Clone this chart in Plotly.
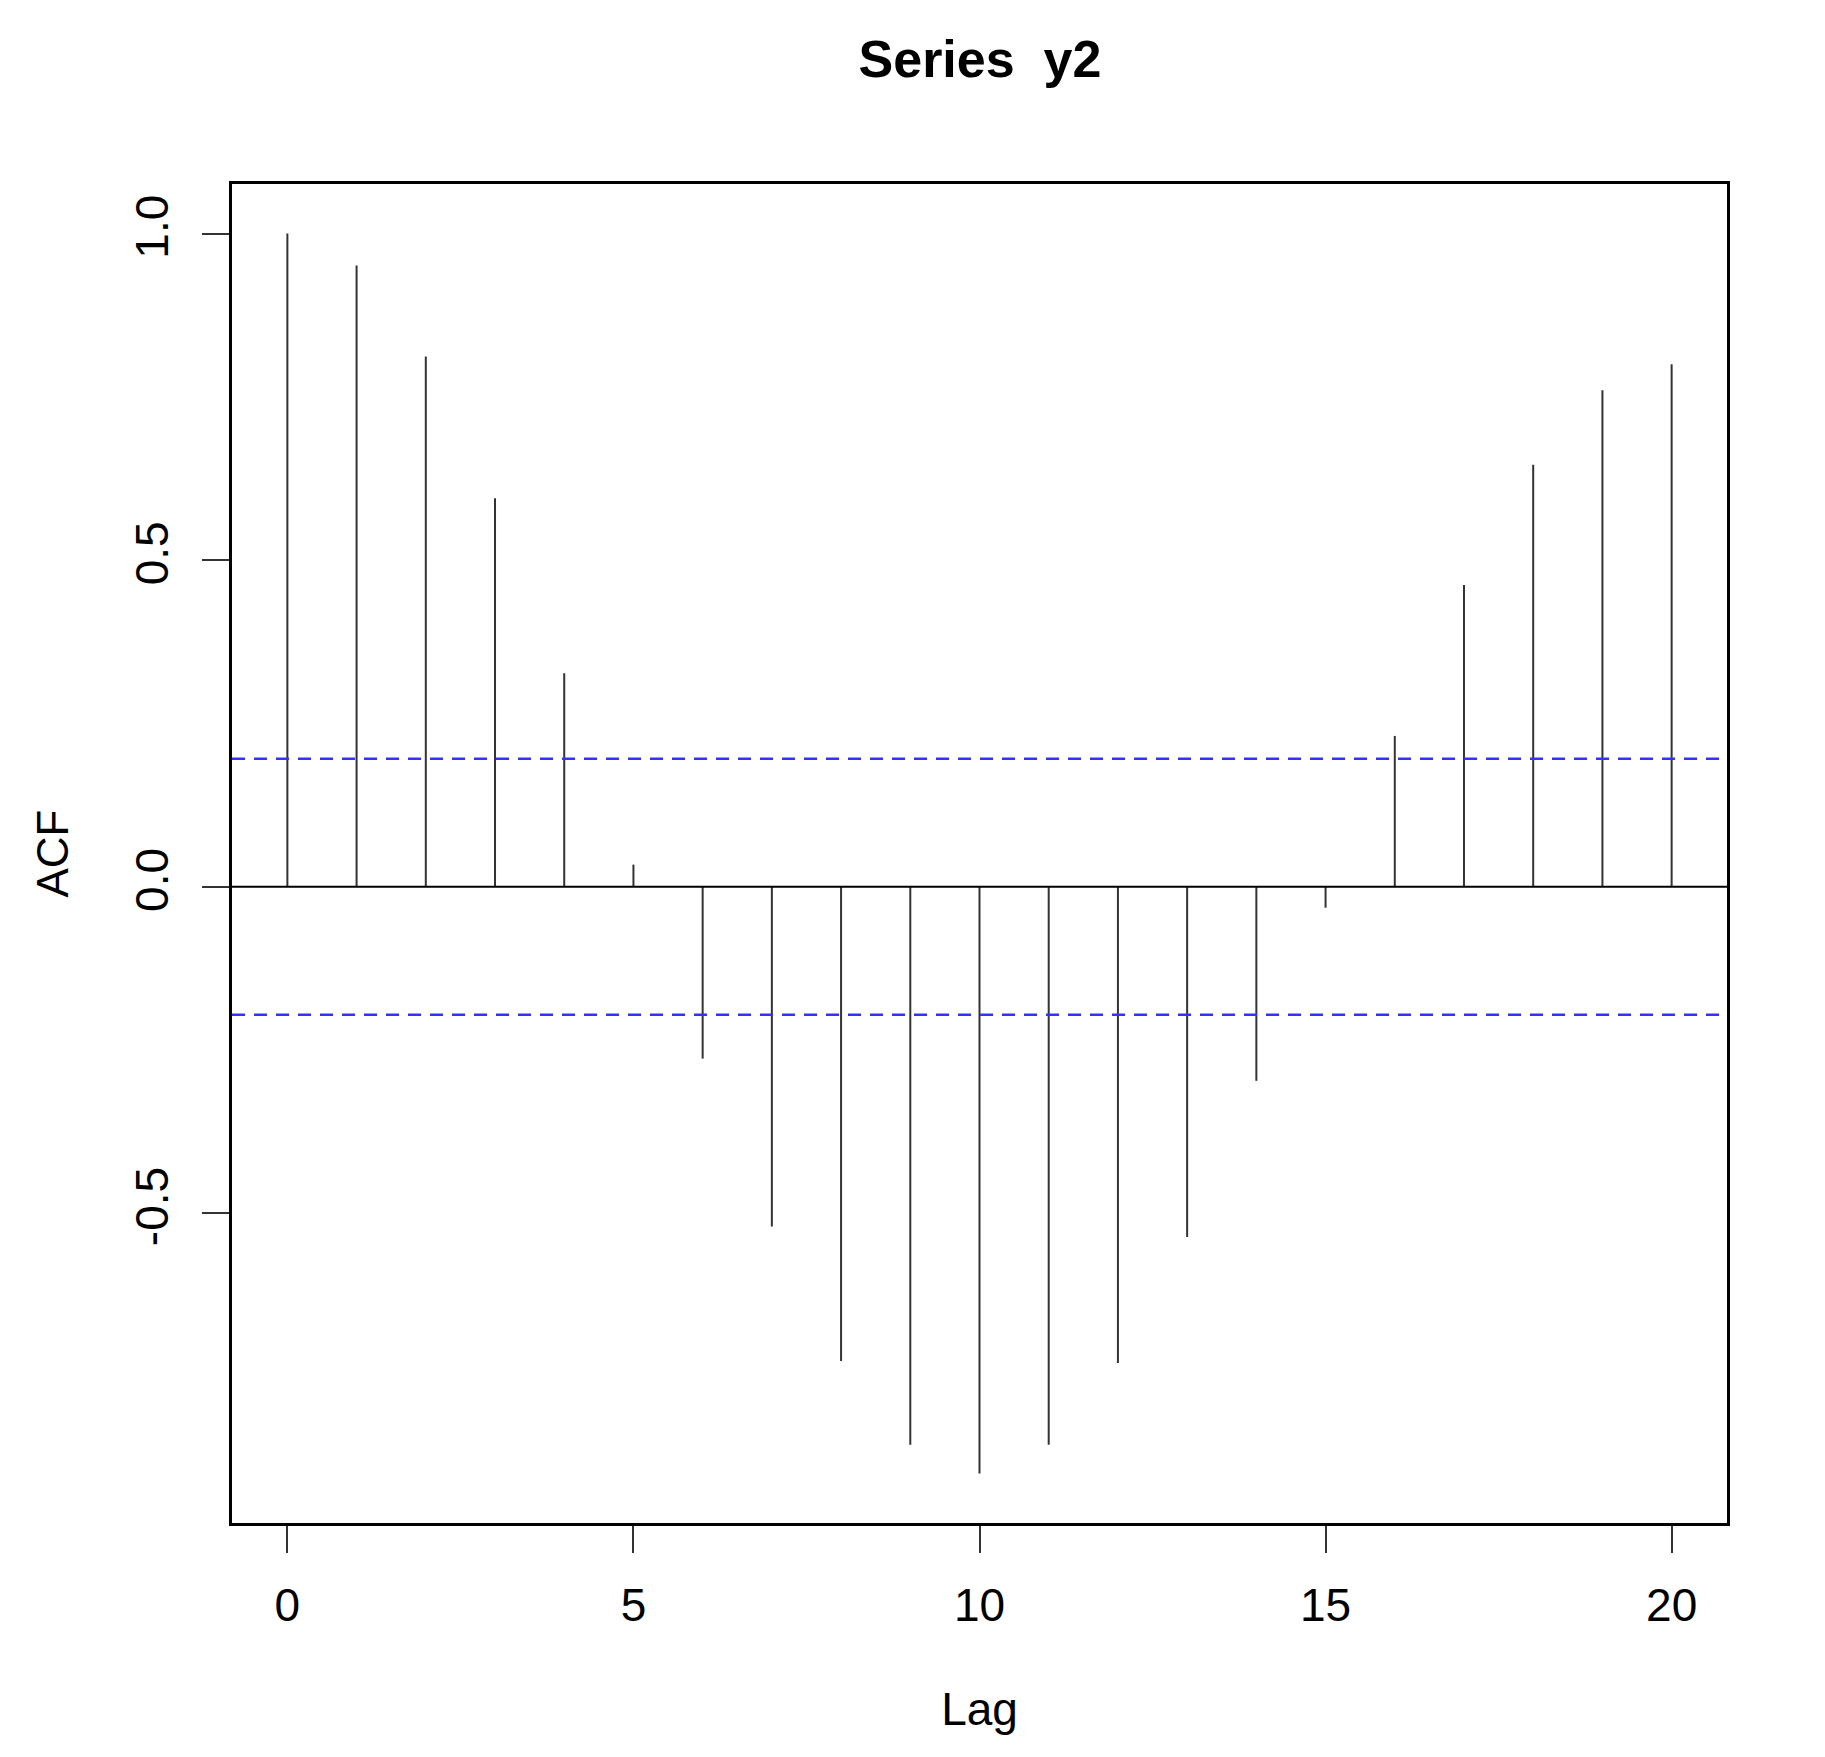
import plotly.graph_objects as go

# ---- data ----
lags = list(range(0, 21))
acf_values = [1.000, 0.951, 0.812, 0.595, 0.327, 0.034, -0.263, -0.520, -0.726,
              -0.854, -0.898, -0.854, -0.729, -0.536, -0.297, -0.032, 0.231,
              0.462, 0.646, 0.760, 0.800]
ci_bound = 0.196
x_ticks = [0, 5, 10, 15, 20]
y_ticks = [-0.5, 0.0, 0.5, 1.0]
y_tick_labels = ["-0.5", "0.0", "0.5", "1.0"]
title_text = "Series  y2"
x_label = "Lag"
y_label = "ACF"

# ---- build spikes ----
xs, ys = [], []
for lag, v in zip(lags, acf_values):
    xs += [lag, lag, None]
    ys += [0, v, None]

FONT = "Liberation Sans, Arial, sans-serif"
W, H = 1809, 1741

fig = go.Figure()
fig.add_trace(go.Scatter(x=xs, y=ys, mode="lines",
                         line=dict(color="#333333", width=2),
                         hoverinfo="skip", showlegend=False))

xmin, xmax = min(lags), max(lags)
xpad = 0.04 * (xmax - xmin)
ymin, ymax = min(min(acf_values), -ci_bound), max(max(acf_values), ci_bound)
ypad = 0.04 * (ymax - ymin)

# zero line and confidence bounds
fig.add_shape(type="line", xref="paper", x0=0, x1=1, yref="y", y0=0, y1=0,
              line=dict(color="black", width=2))
for b in (ci_bound, -ci_bound):
    fig.add_shape(type="line", xref="paper", x0=0, x1=1, yref="y", y0=b, y1=b,
                  line=dict(color="#3333ff", width=2.5, dash="13px,9px"))

fig.update_layout(
    width=W, height=H,
    paper_bgcolor="white", plot_bgcolor="white",
    margin=dict(l=224, r=90, t=176, b=226),
    font=dict(family=FONT, color="black", size=46),
    title=dict(text="<b>" + title_text + "</b>", x=0.5373, xanchor="center",
               y=1 - 51 / H, yanchor="middle",
               font=dict(size=52, family=FONT, color="black")),
    showlegend=False,
)
fig.update_xaxes(
    range=[xmin - xpad, xmax + xpad],
    tickvals=x_ticks, ticktext=[str(t) for t in x_ticks],
    ticks="outside", ticklen=27, tickwidth=2, tickcolor="#333333",
    showline=True, linecolor="black", linewidth=3, mirror=True,
    showgrid=False, zeroline=False,
    tickfont=dict(size=46, family=FONT),
    ticklabelstandoff=13,
    title=dict(text=x_label, font=dict(size=46, family=FONT), standoff=63),
)
fig.update_yaxes(
    range=[ymin - ypad, ymax + ypad],
    tickvals=y_ticks, ticktext=y_tick_labels, tickangle=-90,
    ticks="outside", ticklen=27, tickwidth=2, tickcolor="#333333",
    showline=True, linecolor="black", linewidth=3, mirror=True,
    showgrid=False, zeroline=False,
    tickfont=dict(size=46, family=FONT),
    ticklabelstandoff=16,
    title=dict(text=y_label, font=dict(size=44, family=FONT), standoff=44),
)

fig.write_html("out.html")
